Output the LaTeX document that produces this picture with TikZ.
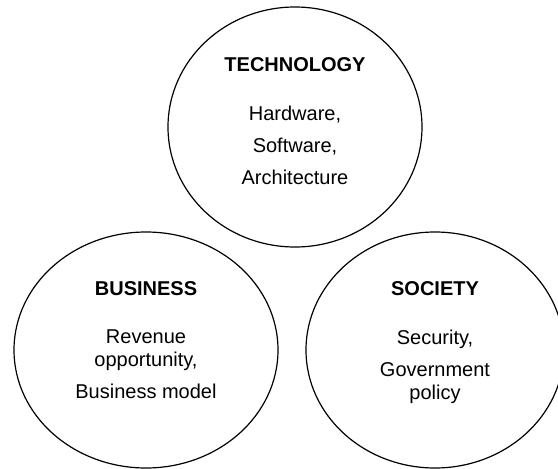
\documentclass[tikz,border=0pt]{standalone}
\usepackage{fontspec}
\setmainfont{Liberation Sans}
\usetikzlibrary{positioning, shapes.geometric}

\begin{document}
\begin{tikzpicture}[
  x=1pt, y=-1pt,
  oval/.style={draw, ellipse, line width=1.2pt, inner sep=0pt},
  head/.style={font=\fontsize{20}{24}\selectfont\bfseries, inner sep=0pt, anchor=base},
  body/.style={font=\fontsize{20}{23}\selectfont, align=center, inner sep=0pt}
]
\useasboundingbox (0,0) rectangle (558,469);

\node[oval, minimum width=254pt, minimum height=240pt] (tech) at (295,127) {};
\node[oval, minimum width=264pt, minimum height=236pt] (bus) at (146,350) {};
\node[oval, minimum width=258pt, minimum height=236pt] (soc) at (435,350) {};

\node[head] (techhead) at ([yshift=56pt]tech.center) {TECHNOLOGY};
\node[body, below=34pt of techhead] (techbody) {Hardware,\\[9pt]Software,\\[9pt]Architecture};

\node[head] (bushead) at ([yshift=55pt]bus.center) {BUSINESS};
\node[body, below=34pt of bushead] (busbody) {Revenue\\opportunity,\\[9pt]Business model};

\node[head] (sochead) at ([yshift=55pt]soc.center) {SOCIETY};
\node[body, below=34pt of sochead] (socbody) {Security,\\[9pt]Government\\policy};
\end{tikzpicture}
\end{document}
